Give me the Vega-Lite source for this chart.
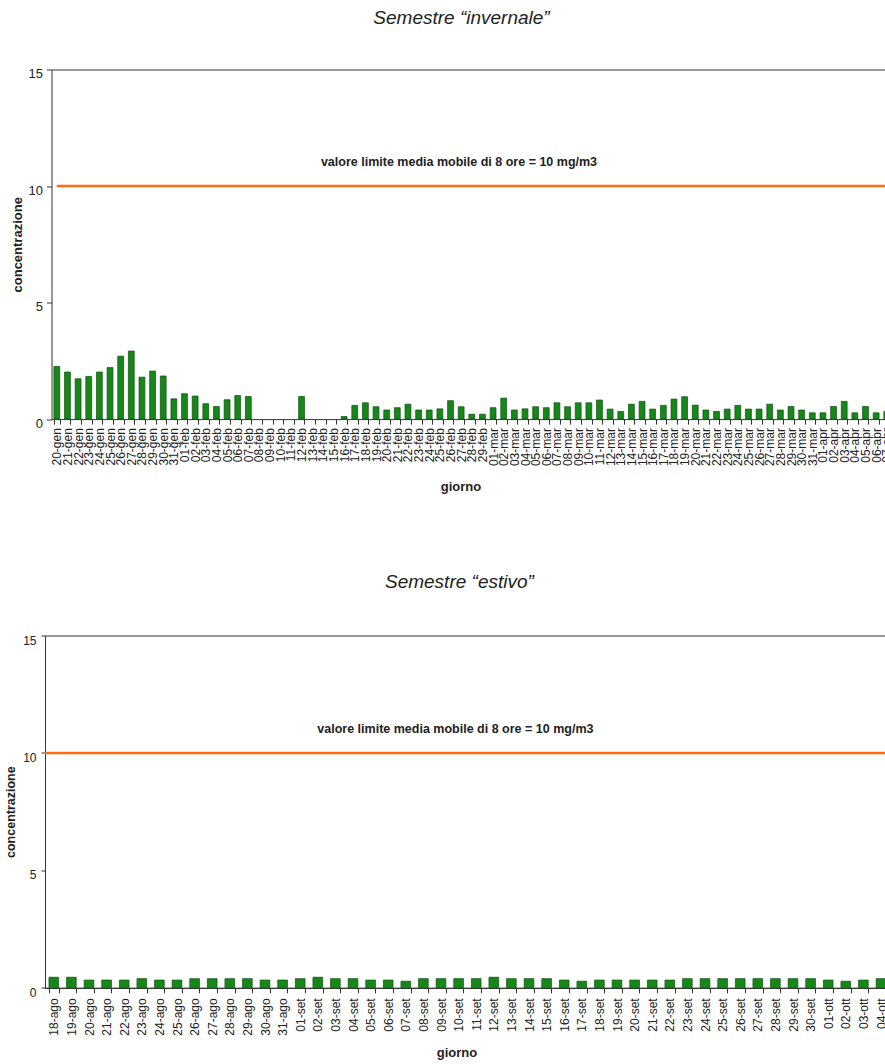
{
  "$schema": "https://vega.github.io/schema/vega-lite/v6.json",
  "padding": {"left": 3, "top": 8.5, "right": 0, "bottom": 0},
  "background": "white",
  "config": {
    "font": "Liberation Sans",
    "view": {"stroke": "#333", "strokeWidth": 1},
    "axis": {"domainColor": "#333", "tickColor": "#333", "labelColor": "#222", "titleColor": "#222", "grid": false},
    "concat": {"spacing": 78}
  },
  "datasets": {
    "invernale": [
      {"giorno": "20-gen", "concentrazione": 2.26},
      {"giorno": "21-gen", "concentrazione": 2.02},
      {"giorno": "22-gen", "concentrazione": 1.73},
      {"giorno": "23-gen", "concentrazione": 1.83},
      {"giorno": "24-gen", "concentrazione": 2.02},
      {"giorno": "25-gen", "concentrazione": 2.21},
      {"giorno": "26-gen", "concentrazione": 2.70},
      {"giorno": "27-gen", "concentrazione": 2.92},
      {"giorno": "28-gen", "concentrazione": 1.80},
      {"giorno": "29-gen", "concentrazione": 2.06},
      {"giorno": "30-gen", "concentrazione": 1.85},
      {"giorno": "31-gen", "concentrazione": 0.87},
      {"giorno": "01-feb", "concentrazione": 1.09},
      {"giorno": "02-feb", "concentrazione": 0.99},
      {"giorno": "03-feb", "concentrazione": 0.66},
      {"giorno": "04-feb", "concentrazione": 0.54},
      {"giorno": "05-feb", "concentrazione": 0.83},
      {"giorno": "06-feb", "concentrazione": 1.01},
      {"giorno": "07-feb", "concentrazione": 0.97},
      {"giorno": "08-feb", "concentrazione": null},
      {"giorno": "09-feb", "concentrazione": null},
      {"giorno": "10-feb", "concentrazione": null},
      {"giorno": "11-feb", "concentrazione": null},
      {"giorno": "12-feb", "concentrazione": 0.97},
      {"giorno": "13-feb", "concentrazione": null},
      {"giorno": "14-feb", "concentrazione": null},
      {"giorno": "15-feb", "concentrazione": null},
      {"giorno": "16-feb", "concentrazione": 0.11},
      {"giorno": "17-feb", "concentrazione": 0.59},
      {"giorno": "18-feb", "concentrazione": 0.70},
      {"giorno": "19-feb", "concentrazione": 0.53},
      {"giorno": "20-feb", "concentrazione": 0.39},
      {"giorno": "21-feb", "concentrazione": 0.49},
      {"giorno": "22-feb", "concentrazione": 0.64},
      {"giorno": "23-feb", "concentrazione": 0.39},
      {"giorno": "24-feb", "concentrazione": 0.39},
      {"giorno": "25-feb", "concentrazione": 0.44},
      {"giorno": "26-feb", "concentrazione": 0.79},
      {"giorno": "27-feb", "concentrazione": 0.53},
      {"giorno": "28-feb", "concentrazione": 0.21},
      {"giorno": "29-feb", "concentrazione": 0.21},
      {"giorno": "01-mar", "concentrazione": 0.49},
      {"giorno": "02-mar", "concentrazione": 0.90},
      {"giorno": "03-mar", "concentrazione": 0.39},
      {"giorno": "04-mar", "concentrazione": 0.44},
      {"giorno": "05-mar", "concentrazione": 0.53},
      {"giorno": "06-mar", "concentrazione": 0.49},
      {"giorno": "07-mar", "concentrazione": 0.70},
      {"giorno": "08-mar", "concentrazione": 0.53},
      {"giorno": "09-mar", "concentrazione": 0.70},
      {"giorno": "10-mar", "concentrazione": 0.70},
      {"giorno": "11-mar", "concentrazione": 0.82},
      {"giorno": "12-mar", "concentrazione": 0.43},
      {"giorno": "13-mar", "concentrazione": 0.33},
      {"giorno": "14-mar", "concentrazione": 0.64},
      {"giorno": "15-mar", "concentrazione": 0.76},
      {"giorno": "16-mar", "concentrazione": 0.43},
      {"giorno": "17-mar", "concentrazione": 0.59},
      {"giorno": "18-mar", "concentrazione": 0.86},
      {"giorno": "19-mar", "concentrazione": 0.96},
      {"giorno": "20-mar", "concentrazione": 0.60},
      {"giorno": "21-mar", "concentrazione": 0.39},
      {"giorno": "22-mar", "concentrazione": 0.33},
      {"giorno": "23-mar", "concentrazione": 0.43},
      {"giorno": "24-mar", "concentrazione": 0.59},
      {"giorno": "25-mar", "concentrazione": 0.43},
      {"giorno": "26-mar", "concentrazione": 0.43},
      {"giorno": "27-mar", "concentrazione": 0.64},
      {"giorno": "28-mar", "concentrazione": 0.39},
      {"giorno": "29-mar", "concentrazione": 0.54},
      {"giorno": "30-mar", "concentrazione": 0.39},
      {"giorno": "31-mar", "concentrazione": 0.27},
      {"giorno": "01-apr", "concentrazione": 0.27},
      {"giorno": "02-apr", "concentrazione": 0.54},
      {"giorno": "03-apr", "concentrazione": 0.76},
      {"giorno": "04-apr", "concentrazione": 0.27},
      {"giorno": "05-apr", "concentrazione": 0.54},
      {"giorno": "06-apr", "concentrazione": 0.27},
      {"giorno": "07-apr", "concentrazione": 0.33}
    ],
    "estivo": [
      {"giorno": "18-ago", "concentrazione": 0.45},
      {"giorno": "19-ago", "concentrazione": 0.45},
      {"giorno": "20-ago", "concentrazione": 0.33},
      {"giorno": "21-ago", "concentrazione": 0.33},
      {"giorno": "22-ago", "concentrazione": 0.33},
      {"giorno": "23-ago", "concentrazione": 0.39},
      {"giorno": "24-ago", "concentrazione": 0.33},
      {"giorno": "25-ago", "concentrazione": 0.33},
      {"giorno": "26-ago", "concentrazione": 0.39},
      {"giorno": "27-ago", "concentrazione": 0.39},
      {"giorno": "28-ago", "concentrazione": 0.39},
      {"giorno": "29-ago", "concentrazione": 0.39},
      {"giorno": "30-ago", "concentrazione": 0.33},
      {"giorno": "31-ago", "concentrazione": 0.33},
      {"giorno": "01-set", "concentrazione": 0.39},
      {"giorno": "02-set", "concentrazione": 0.45},
      {"giorno": "03-set", "concentrazione": 0.39},
      {"giorno": "04-set", "concentrazione": 0.39},
      {"giorno": "05-set", "concentrazione": 0.33},
      {"giorno": "06-set", "concentrazione": 0.33},
      {"giorno": "07-set", "concentrazione": 0.28},
      {"giorno": "08-set", "concentrazione": 0.39},
      {"giorno": "09-set", "concentrazione": 0.39},
      {"giorno": "10-set", "concentrazione": 0.39},
      {"giorno": "11-set", "concentrazione": 0.39},
      {"giorno": "12-set", "concentrazione": 0.45},
      {"giorno": "13-set", "concentrazione": 0.39},
      {"giorno": "14-set", "concentrazione": 0.39},
      {"giorno": "15-set", "concentrazione": 0.39},
      {"giorno": "16-set", "concentrazione": 0.33},
      {"giorno": "17-set", "concentrazione": 0.28},
      {"giorno": "18-set", "concentrazione": 0.33},
      {"giorno": "19-set", "concentrazione": 0.33},
      {"giorno": "20-set", "concentrazione": 0.33},
      {"giorno": "21-set", "concentrazione": 0.33},
      {"giorno": "22-set", "concentrazione": 0.33},
      {"giorno": "23-set", "concentrazione": 0.39},
      {"giorno": "24-set", "concentrazione": 0.39},
      {"giorno": "25-set", "concentrazione": 0.39},
      {"giorno": "26-set", "concentrazione": 0.39},
      {"giorno": "27-set", "concentrazione": 0.39},
      {"giorno": "28-set", "concentrazione": 0.39},
      {"giorno": "29-set", "concentrazione": 0.39},
      {"giorno": "30-set", "concentrazione": 0.39},
      {"giorno": "01-ott", "concentrazione": 0.33},
      {"giorno": "02-ott", "concentrazione": 0.28},
      {"giorno": "03-ott", "concentrazione": 0.33},
      {"giorno": "04-ott", "concentrazione": 0.39}
    ],
    "limite": [
      {"limite": 10, "etichetta": "valore limite media mobile di 8 ore = 10 mg/m3"}
    ]
  },
  "vconcat": [
    {
      "title": {"text": "Semestre “invernale”", "frame": "group", "dx": -7.5, "offset": 40, "fontSize": 19, "fontStyle": "italic", "fontWeight": "normal", "color": "#222"},
      "width": 848,
      "height": 349.6,
      "view": {"stroke": null},
      "resolve": {"axis": {"x": "independent"}},
      "layer": [
        {
          "data": {"name": "invernale"},
          "mark": {"type": "bar", "color": "#16881a", "stroke": "#0d4f0d", "strokeWidth": 0.7},
          "encoding": {
            "x": {"field": "giorno", "type": "nominal", "sort": null,
              "scale": {"range": [6.5, 847.1], "paddingInner": 0.45, "paddingOuter": 0.225,
                "domain": ["20-gen","21-gen","22-gen","23-gen","24-gen","25-gen","26-gen","27-gen","28-gen","29-gen","30-gen","31-gen",
                  "01-feb","02-feb","03-feb","04-feb","05-feb","06-feb","07-feb","08-feb","09-feb","10-feb","11-feb","12-feb","13-feb","14-feb","15-feb","16-feb","17-feb","18-feb","19-feb","20-feb","21-feb","22-feb","23-feb","24-feb","25-feb","26-feb","27-feb","28-feb","29-feb",
                  "01-mar","02-mar","03-mar","04-mar","05-mar","06-mar","07-mar","08-mar","09-mar","10-mar","11-mar","12-mar","13-mar","14-mar","15-mar","16-mar","17-mar","18-mar","19-mar","20-mar","21-mar","22-mar","23-mar","24-mar","25-mar","26-mar","27-mar","28-mar","29-mar","30-mar","31-mar",
                  "01-apr","02-apr","03-apr","04-apr","05-apr","06-apr","07-apr"]},
              "axis": {"orient": "bottom", "tickBand": "extent", "labelAngle": -90, "labelFontSize": 12, "labelPadding": 3.5, "tickSize": 5,
                "title": "giorno", "titleFontSize": 13, "titleFontWeight": "bold", "titleX": 415.5, "titleY": 67, "titleBaseline": "middle"}},
            "y": {"field": "concentrazione", "type": "quantitative", "scale": {"domain": [0, 15], "nice": false},
              "axis": {"values": [0, 5, 10, 15], "offset": -6.5, "tickSize": 5, "labelPadding": 4, "labelOffset": 4, "labelFontSize": 13,
                "title": "concentrazione", "titleFontSize": 13, "titleFontWeight": "bold", "titlePadding": 4}}
          }
        },
        {
          "data": {"name": "limite"},
          "mark": {"type": "rule", "color": "#ff6a0d", "strokeWidth": 2.5},
          "encoding": {
            "x": {"datum": "20-gen", "type": "nominal",
              "axis": {"orient": "top", "labels": false, "ticks": false, "title": null, "domain": true}},
            "x2": {"datum": "07-apr"},
            "y": {"field": "limite", "type": "quantitative"}
          }
        },
        {
          "data": {"name": "limite"},
          "mark": {"type": "text", "fontSize": 12.5, "fontWeight": "bold", "color": "#222", "dy": -24, "dx": -10},
          "encoding": {
            "y": {"field": "limite", "type": "quantitative"},
            "text": {"field": "etichetta"}
          }
        }
      ]
    },
    {
      "title": {"text": "Semestre “estivo”", "frame": "group", "dx": -8, "offset": 42.2, "fontSize": 19, "fontStyle": "italic", "fontWeight": "normal", "color": "#222"},
      "width": 844.8,
      "height": 352.3,
      "layer": [
        {
          "data": {"name": "estivo"},
          "mark": {"type": "bar", "color": "#16881a", "stroke": "#0d4f0d", "strokeWidth": 0.7},
          "encoding": {
            "x": {"field": "giorno", "type": "nominal", "sort": null,
              "scale": {"paddingInner": 0.45, "paddingOuter": 0.225},
              "axis": {"tickBand": "extent", "labelAngle": -90, "labelFontSize": 12, "labelPadding": 5, "tickSize": 5,
                "title": "giorno", "titleFontSize": 13, "titleFontWeight": "bold", "titleX": 411.5, "titleY": 65, "titleBaseline": "middle"}},
            "y": {"field": "concentrazione", "type": "quantitative", "scale": {"domain": [0, 15], "nice": false},
              "axis": {"values": [0, 5, 10, 15], "tickSize": 4, "labelPadding": 5, "labelOffset": 4.5, "labelFontSize": 12,
                "title": "concentrazione", "titleFontSize": 12.5, "titleFontWeight": "bold", "titlePadding": 5.5}}
          }
        },
        {
          "data": {"name": "limite"},
          "mark": {"type": "rule", "color": "#ff6a0d", "strokeWidth": 2.5},
          "encoding": {
            "y": {"field": "limite", "type": "quantitative"}
          }
        },
        {
          "data": {"name": "limite"},
          "mark": {"type": "text", "fontSize": 12.5, "fontWeight": "bold", "color": "#222", "dy": -24, "dx": -12},
          "encoding": {
            "y": {"field": "limite", "type": "quantitative"},
            "text": {"field": "etichetta"}
          }
        }
      ]
    }
  ]
}
